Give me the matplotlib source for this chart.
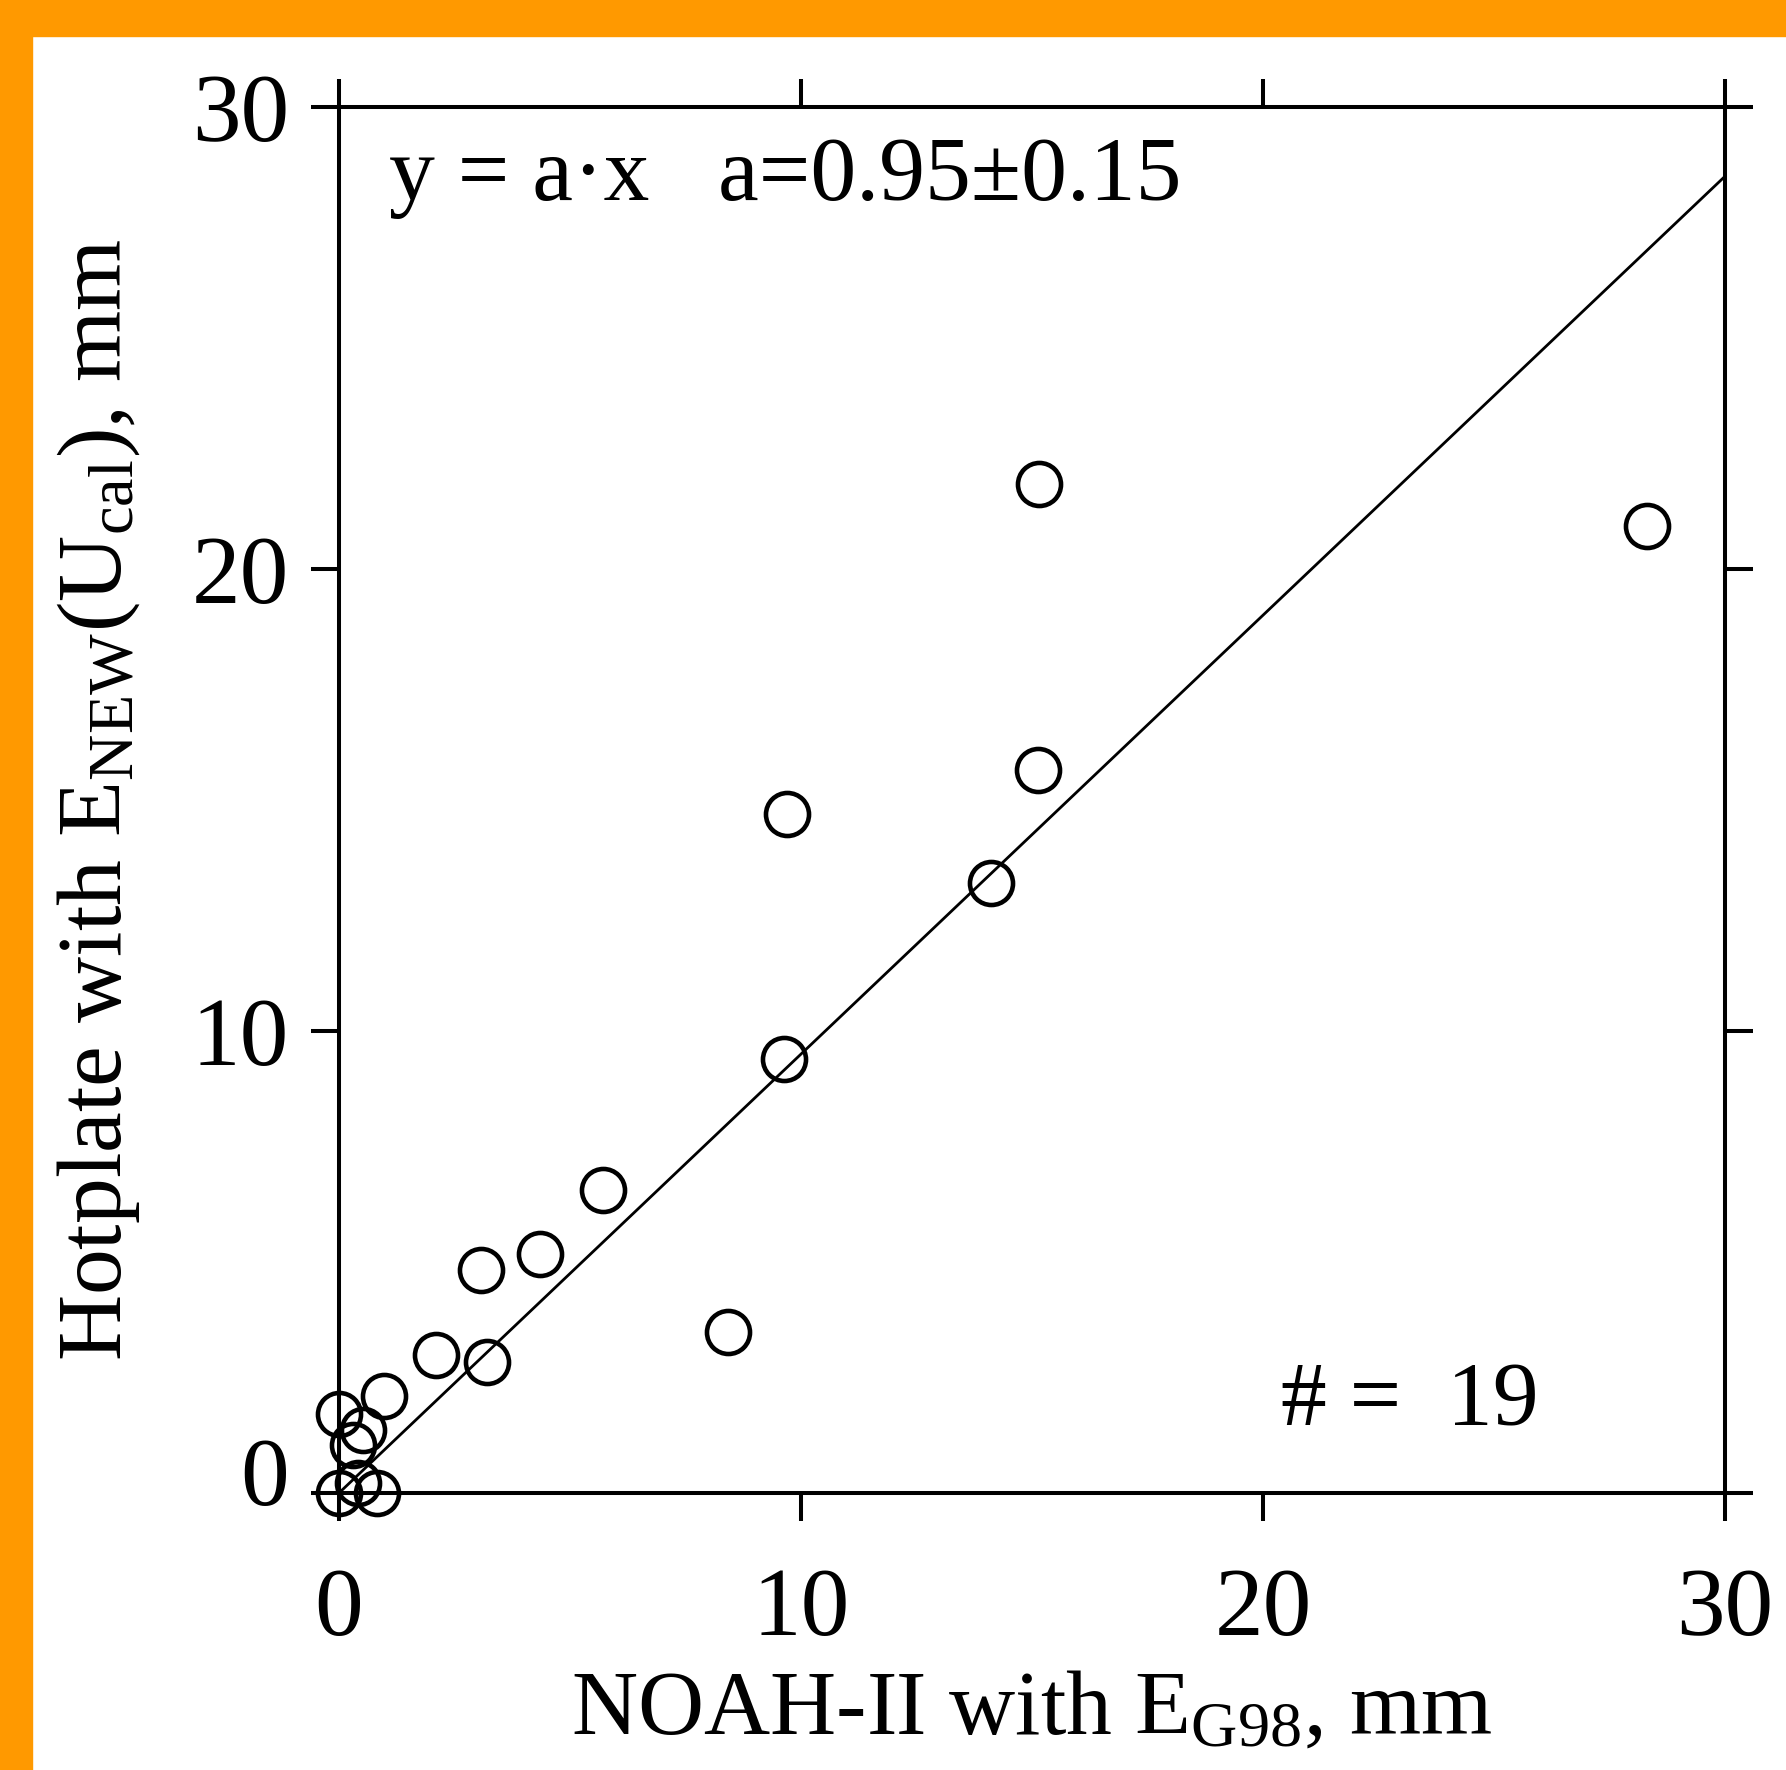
import matplotlib
matplotlib.use("Agg")
import matplotlib.pyplot as plt
from matplotlib.patches import Rectangle
from matplotlib.transforms import ScaledTranslation
import numpy as np

plt.rcParams['font.family'] = ['Liberation Serif', 'DejaVu Serif']
plt.rcParams['mathtext.fontset'] = 'custom'
plt.rcParams['mathtext.rm'] = 'Liberation Serif'
plt.rcParams['mathtext.it'] = 'Liberation Serif:italic'

# NOAH-II with E_G98 (mm) vs Hotplate with E_NEW(U_cal) (mm)
noah = [15.16, 28.32, 15.13, 9.69, 14.12, 9.64, 5.72, 4.36, 3.08, 8.41,
        2.11, 3.20, 0.98, 0.00, 0.53, 0.30, 0.00, 0.42, 0.82]
hotplate = [21.84, 20.93, 15.65, 14.69, 13.21, 9.39, 6.56, 5.18, 4.83, 3.48,
            2.99, 2.84, 2.10, 1.71, 1.37, 1.04, 0.00, 0.21, 0.00]
slope = 0.95
slope_err = 0.15
ticks = [0, 10, 20, 30]

fig = plt.figure(figsize=(17.86, 17.70), dpi=100)
# orange frame on top and left
fig.patches.append(Rectangle((0, 1 - 36 / 1770), 1, 36 / 1770, transform=fig.transFigure,
                             color='#ff9900', zorder=0))
fig.patches.append(Rectangle((0, 0), 32 / 1786, 1, transform=fig.transFigure,
                             color='#ff9900', zorder=0))

ax = fig.add_axes([0.1898, 0.1565, 0.7760, 0.7830])

lw = 2.9
ax.plot(noah, hotplate, 'o', ms=31, mfc='none', mec='black', mew=3.3, clip_on=False, zorder=3)
xl = np.array([0, 30])
ax.plot(xl, slope * xl, color='black', lw=2.0)

ax.set_xlim(0, 30)
ax.set_ylim(0, 30)
ax.set_xticks(ticks)
ax.set_yticks(ticks)
for s in ax.spines.values():
    s.set_linewidth(lw)
ax.tick_params(which='both', direction='out', length=20, width=lw, labelsize=70,
               top=True, right=True)
ax.tick_params(axis='y', pad=16)
ax.tick_params(axis='x', pad=34)

# the "0" on the y axis sits a little higher in the original
lab0 = ax.yaxis.get_major_ticks()[0].label1
lab0.set_transform(lab0.get_transform() + ScaledTranslation(0, 0.22, fig.dpi_scale_trans))

ax.set_xlabel(r'NOAH-II with E$_{\mathrm{G98}}$, mm', fontsize=66, labelpad=10)
ax.set_ylabel(r'Hotplate with E$_{\mathrm{NEW}}$(U$_{\mathrm{cal}}$), mm', fontsize=66, labelpad=36)

ax.text(0.036, 0.979, 'y = a\u00b7x   a=%.2f\u00b1%.2f' % (slope, slope_err),
        transform=ax.transAxes, fontsize=66, va='top', ha='left')
ax.text(0.68, 0.035, '# =  %d' % len(noah), transform=ax.transAxes,
        fontsize=66, va='bottom', ha='left')

fig.savefig('out.png', dpi=100)
